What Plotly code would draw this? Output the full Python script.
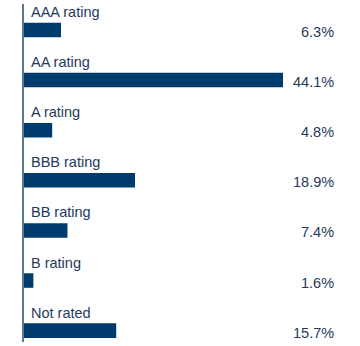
import plotly.graph_objects as go

categories = ["AAA rating", "AA rating", "A rating", "BBB rating", "BB rating", "B rating", "Not rated"]
values = [6.3, 44.1, 4.8, 18.9, 7.4, 1.6, 15.7]
value_labels = ["6.3%", "44.1%", "4.8%", "18.9%", "7.4%", "1.6%", "15.7%"]

BAR = "#003b6e"
TEXT = "#1f3a5c"
FONT = "Liberation Sans"

fig = go.Figure(go.Bar(
    x=values, y=categories, orientation="h",
    marker=dict(color=BAR, line=dict(width=0)),
    width=0.29, hoverinfo="skip",
))

ann = []
for c, lab in zip(categories, value_labels):
    ann.append(dict(x=0, y=c, xref="x", yref="y", text=c, showarrow=False,
                    xanchor="left", yanchor="middle", xshift=5, yshift=18,
                    font=dict(family=FONT, size=14.5, color=TEXT)))
    ann.append(dict(x=1, y=c, xref="paper", yref="y", text=lab, showarrow=False,
                    xanchor="right", yanchor="middle", xshift=2, yshift=-2,
                    font=dict(family=FONT, size=14.5, color=TEXT)))

fig.update_layout(
    width=360, height=346,
    margin=dict(l=24, r=26, t=4, b=4),
    paper_bgcolor="white", plot_bgcolor="white",
    showlegend=False,
    annotations=ann,
    xaxis=dict(range=[0, 52.78], visible=False, fixedrange=True),
    yaxis=dict(type="category", categoryarray=categories, range=[6.227, -0.519],
               showticklabels=False, ticks="", showgrid=False, zeroline=False,
               showline=True, linecolor="#5b7895", linewidth=1.5, fixedrange=True),
)

fig.write_html("out.html")
